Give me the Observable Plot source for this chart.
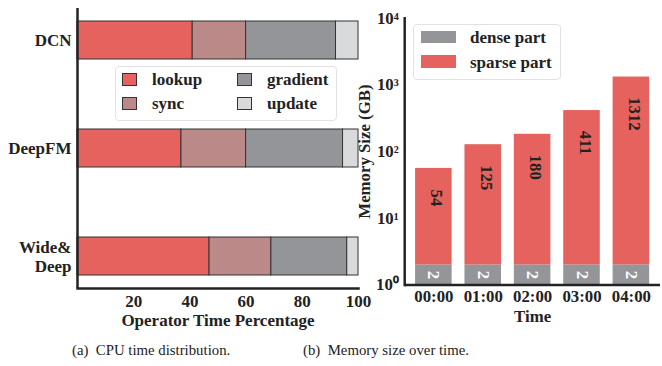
<!DOCTYPE html>
<html>
<head>
<meta charset="utf-8">
<script src="https://cdn.jsdelivr.net/npm/d3@7"></script>
<script src="https://cdn.jsdelivr.net/npm/@observablehq/plot@0.6"></script>
<style>
  html, body { margin: 0; padding: 0; background: white; overflow: hidden; }
  #wrap { position: relative; width: 662px; height: 366px; overflow: hidden; font-family: "Liberation Serif", "Times New Roman", serif; }
  .panel { position: absolute; top: 0; }
  .legend { position: absolute; border: 1px solid #e2e2e2; border-radius: 4px; background: rgba(255,255,255,0.85); font-weight: bold; font-size: 17px; color: #222; }
  .item { position: absolute; white-space: nowrap; line-height: 17px; }
  .sw { position: absolute; box-sizing: border-box; }
  .cap { position: absolute; top: 342px; font-size: 14.8px; color: #222; white-space: pre; }
</style>
</head>
<body>
<div id="wrap"></div>
<script>
// ---- Panel (a) data ----
const models = ["DCN", "DeepFM", "Wide&Deep"];
const ops = ["lookup", "sync", "gradient", "update"];
const lookup = [41, 37, 47];
const sync = [19, 23, 22];
const gradient = [32, 34.5, 27];
const update = [8, 5.5, 4];
const opColors = ["#e5625e", "#bb8988", "#939598", "#d9dadb"];
const xTicksA = [20, 40, 60, 80, 100];

// ---- Panel (b) data ----
const times = ["00:00", "01:00", "02:00", "03:00", "04:00"];
const dense = [2, 2, 2, 2, 2];
const sparse = [54, 125, 180, 411, 1312];
const yTicksB = [1, 10, 100, 1000, 10000];
const denseColor = "#939598";
const sparseColor = "#e5625e";

const font = '"Liberation Serif", "Times New Roman", serif';
const baseStyle = {background: "transparent", fontFamily: font, fontSize: "17px", fontWeight: "bold", color: "#222", overflow: "visible"};

const seriesA = {lookup, sync, gradient, update};
const tableA = [];
models.forEach((m, i) => ops.forEach(op => tableA.push({model: m, op, value: seriesA[op][i]})));

const rowsB = times.map((t, i) => ({time: t, dense: dense[i], sparse: sparse[i]}));

const sup = {"0": "\u2070", "1": "\u00b9", "2": "\u00b2", "3": "\u00b3", "4": "\u2074"};

const plotA = Plot.plot({
  width: 380, height: 330,
  marginLeft: 77, marginRight: 22, marginTop: 8, marginBottom: 42,
  style: baseStyle,
  x: {domain: [0, 100], label: "Operator Time Percentage"},
  y: {domain: models, paddingInner: 0.648, paddingOuter: 0.12, label: null},
  color: {domain: ops, range: opColors},
  marks: [
    Plot.barX(tableA, Plot.stackX({x: "value", y: "model", fill: "op", stroke: "#333", strokeWidth: 1})),
    Plot.axisX({ticks: xTicksA, tickSize: 0, tickPadding: 6, label: "Operator Time Percentage", labelAnchor: "center", labelOffset: 37, labelArrow: "none"}),
    Plot.axisY({tickSize: 0, tickPadding: 6, lineHeight: 1.1, label: null,
      tickFormat: d => d === "Wide&Deep" ? "Wide&\nDeep" : d}),
    Plot.ruleX([0], {stroke: "#222", strokeWidth: 2.5}),
    Plot.frame({anchor: "bottom", stroke: "#222", strokeWidth: 2.5})
  ]
});

const plotB = Plot.plot({
  width: 326, height: 330,
  marginLeft: 65, marginRight: 2, marginTop: 18, marginBottom: 42,
  style: baseStyle,
  x: {domain: times, paddingInner: 0.266, paddingOuter: 0.22, tickSize: 0, tickPadding: 5, label: "Time", labelAnchor: "center", labelOffset: 38, labelArrow: "none"},
  y: {type: "log", domain: [1, 10000], ticks: yTicksB, tickSize: 0, tickPadding: 6,
      tickFormat: d => "10" + sup[String(Math.round(Math.log10(d)))],
      label: "Memory Size (GB)", labelAnchor: "center", labelOffset: 47, labelArrow: "none"},
  marks: [
    Plot.barY(rowsB, {x: "time", y1: 1, y2: "dense", fill: denseColor}),
    Plot.barY(rowsB, {x: "time", y1: "dense", y2: d => d.dense + d.sparse, fill: sparseColor}),
    Plot.text(rowsB, {x: "time", y: d => d.sparse / 2, text: d => String(d.sparse), rotate: 90, textAnchor: "start", dx: 3, fill: "#222", fontSize: 17}),
    Plot.text(rowsB, {x: "time", y: d => Math.sqrt(d.dense), text: d => String(d.dense), rotate: 90, fill: "white", fontSize: 17}),
    Plot.ruleY([1], {stroke: "#222", strokeWidth: 2.5}),
    Plot.frame({anchor: "left", stroke: "#222", strokeWidth: 2.5})
  ]
});

const wrap = document.getElementById("wrap");
const pa = document.createElement("div"); pa.className = "panel"; pa.style.left = "0px"; pa.appendChild(plotA);
const pb = document.createElement("div"); pb.className = "panel"; pb.style.left = "340px"; pb.appendChild(plotB);
wrap.appendChild(pa); wrap.appendChild(pb);

// ---- Legends ----
function legend(box, items) {
  const lg = document.createElement("div");
  lg.className = "legend";
  Object.assign(lg.style, {left: box.x + "px", top: box.y + "px", width: box.w + "px", height: box.h + "px"});
  items.forEach(it => {
    const sw = document.createElement("div");
    sw.className = "sw";
    Object.assign(sw.style, {left: it.sx + "px", top: it.sy + "px", width: it.sw + "px", height: it.sh + "px", background: it.color, border: it.border || "none"});
    const tx = document.createElement("div");
    tx.className = "item";
    tx.textContent = it.label;
    Object.assign(tx.style, {left: it.tx + "px", top: (it.ty - 9) + "px"});
    lg.appendChild(sw); lg.appendChild(tx);
  });
  wrap.appendChild(lg);
}
legend({x: 115, y: 66, w: 220, h: 53}, ops.map((op, i) => {
  const col = Math.floor(i / 2), row = i % 2;
  return {label: op, color: opColors[i], border: "1px solid #333",
          sx: 6 + col * 115, sy: 6 + row * 24, sw: 15, sh: 13,
          tx: 36 + col * 115, ty: 13 + row * 24};
}));
legend({x: 413, y: 24, w: 146, h: 54}, [
  {label: "dense part", color: denseColor, sx: 7, sy: 6, sw: 35, sh: 12, tx: 56, ty: 13},
  {label: "sparse part", color: sparseColor, sx: 7, sy: 30, sw: 35, sh: 13, tx: 56, ty: 38}
]);

// ---- Captions ----
function caption(text, cx) {
  const c = document.createElement("div");
  c.className = "cap";
  c.textContent = text;
  wrap.appendChild(c);
  c.style.left = (cx - c.offsetWidth / 2) + "px";
}
caption("(a)  CPU time distribution.", 151);
caption("(b)  Memory size over time.", 386);
</script>
</body>
</html>
